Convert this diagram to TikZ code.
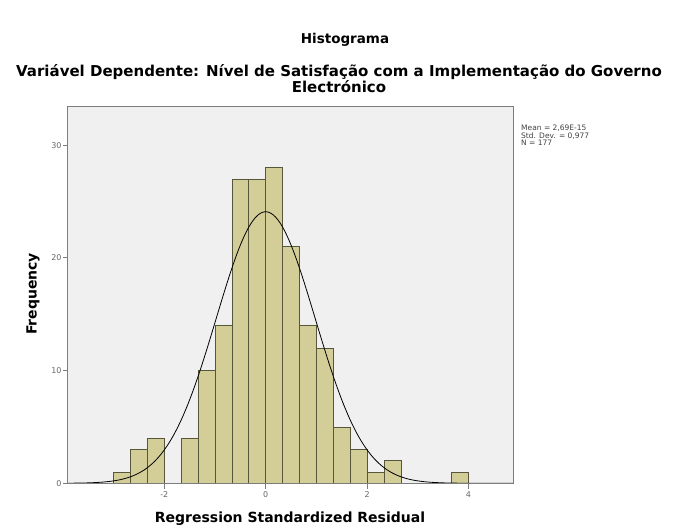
\documentclass[tikz,border=0pt]{standalone}
\usepackage{fontspec}
\setmainfont{DejaVu Sans}
\usetikzlibrary{positioning}
\definecolor{barfill}{RGB}{211,205,152}
\definecolor{baredge}{RGB}{88,86,58}
\definecolor{plotbg}{RGB}{240,240,240}
\definecolor{framegray}{RGB}{125,125,125}
\def\binw{0.3333}
\def\ressd{0.977}
\def\nobs{177}
\def\xmin{-3.92}
\def\xmax{4.88}
\def\ymax{33.4}

\begin{document}
\begin{tikzpicture}[x=1pt,y=1pt,
	bar/.style={draw=baredge,fill=barfill,line width=0.8pt},
	tick/.style={draw=framegray,line width=0.8pt},
	ticklabel/.style={font=\fontsize{8}{9}\selectfont,text=black!60,inner sep=1pt},
	title/.style={font=\fontsize{15}{12.5}\selectfont\bfseries,inner sep=0pt},
	axislabel/.style={font=\fontsize{14}{14}\selectfont\bfseries,inner sep=0pt},
	stats/.style={font=\fontsize{7.5}{7.3}\selectfont,text=black!75,align=left,inner sep=0pt}
	]
	\useasboundingbox (0,0) rectangle (679,530);
	
	\node[title,font=\fontsize{13.5}{14}\selectfont\bfseries] (hist) at (345,490) {Histograma};
	\node[title,align=center] (sub) at (339,451) {Variável Dependente: Nível de Satisfação com a Implementação do Governo\\Electrónico};
	
	\begin{scope}[shift={(265.7,46.7)},x=50.7pt,y=11.27pt]
		\fill[plotbg] (\xmin,0) rectangle (\xmax,\ymax);
		% bins of width 1/3 from -3
		\foreach \i/\n in {0/1,1/3,2/4,4/4,5/10,6/14,7/27,8/27,9/28,10/21,11/14,12/12,13/5,14/3,15/1,16/2,20/1}
			\draw[bar] ({-3+\i/3},0) rectangle ({-3+(\i+1)/3},\n);
		\draw[line width=0.8pt] plot[domain=\xmin:\xmax,samples=200,smooth] (\x,{\nobs*\binw/(\ressd*sqrt(2*pi))*exp(-(\x)^2/(2*\ressd^2))});
		\draw[framegray,line width=0.9pt] (\xmin,0) coordinate (bl) rectangle (\xmax,\ymax) coordinate (tr);
		
		\foreach \f in {0,10,20,30}
			\draw[tick] (\xmin,\f) -- ++(-4pt,0) node[ticklabel,left] (ylab\f) {\f};
		\foreach \u/\t in {-2/-2,0/0,2/2,4/4}
			\draw[tick] (\u,0) -- ++(0,-6pt) node[ticklabel,below,yshift=-1pt] (xlab\t) {\t};
	\end{scope}
	
	\node[axislabel,rotate=90] (ylabel) at (33,236) {Frequency};
	\node[axislabel] (xlabel) at (290,11) {Regression Standardized Residual};
	\node[stats,anchor=north west] (legend) at (521,405) {Mean = 2,69E-15\\Std. Dev. = 0,977\\N = 177};
\end{tikzpicture}
\end{document}
